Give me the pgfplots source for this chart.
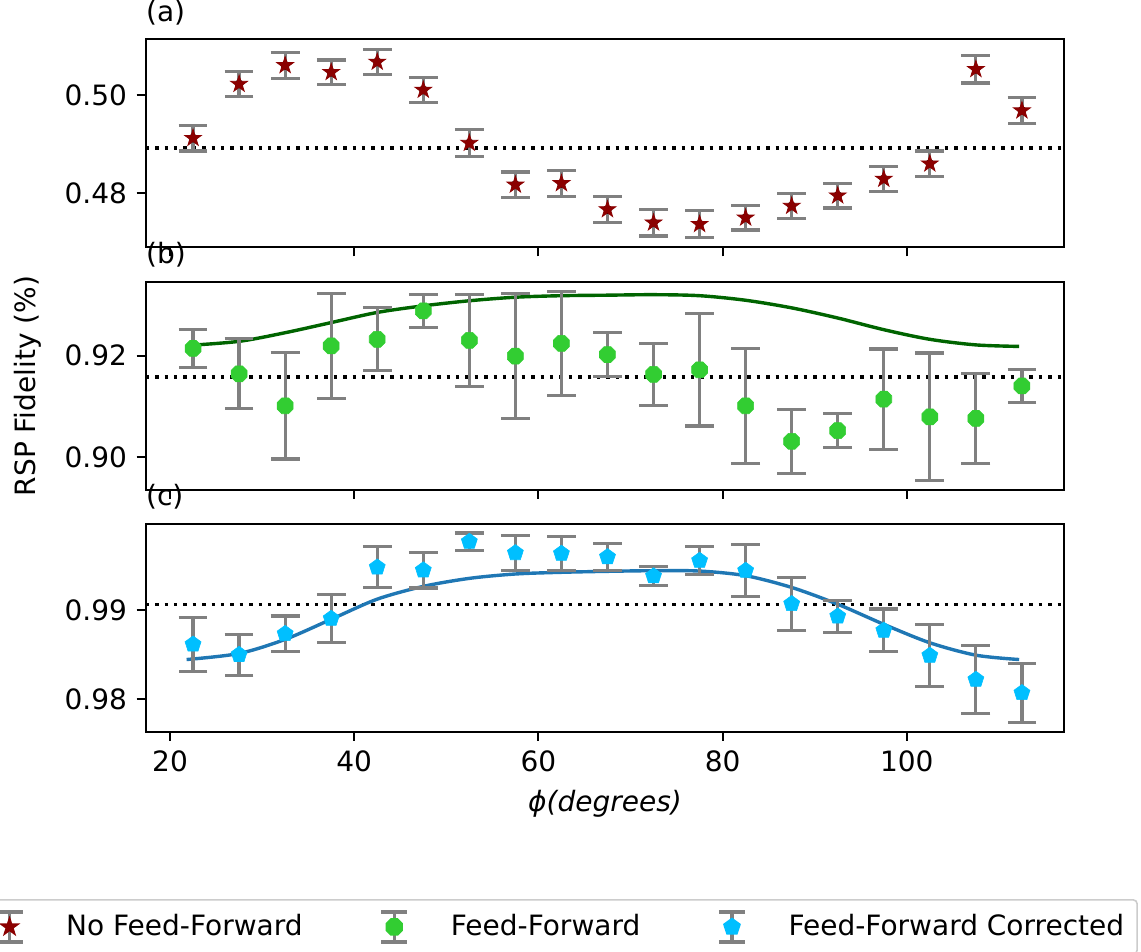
\documentclass[border=0pt]{standalone}
\usepackage{fontspec}
\setmainfont{DejaVu Sans}
\usepackage{pgfplots}
\usepackage{pgfplotstable}
\pgfplotsset{compat=1.18}

\definecolor{mkred}{RGB}{139,0,0}
\definecolor{mkgreen}{RGB}{50,205,50}
\definecolor{mkblue}{RGB}{0,191,255}
\definecolor{fitgreen}{RGB}{0,100,0}
\definecolor{fitblue}{RGB}{31,119,180}
\definecolor{ebgray}{RGB}{128,128,128}

\pgfdeclareplotmark{fstar}{%
  \pgfpathmoveto{\pgfpointpolar{90}{\pgfplotmarksize}}%
  \pgfpathlineto{\pgfpointpolar{126}{0.382\pgfplotmarksize}}%
  \pgfpathlineto{\pgfpointpolar{162}{\pgfplotmarksize}}%
  \pgfpathlineto{\pgfpointpolar{198}{0.382\pgfplotmarksize}}%
  \pgfpathlineto{\pgfpointpolar{234}{\pgfplotmarksize}}%
  \pgfpathlineto{\pgfpointpolar{270}{0.382\pgfplotmarksize}}%
  \pgfpathlineto{\pgfpointpolar{306}{\pgfplotmarksize}}%
  \pgfpathlineto{\pgfpointpolar{342}{0.382\pgfplotmarksize}}%
  \pgfpathlineto{\pgfpointpolar{18}{\pgfplotmarksize}}%
  \pgfpathlineto{\pgfpointpolar{54}{0.382\pgfplotmarksize}}%
  \pgfpathclose\pgfusepathqfillstroke}
\pgfdeclareplotmark{foct}{%
  \pgfpathmoveto{\pgfpointpolar{22.5}{\pgfplotmarksize}}%
  \pgfpathlineto{\pgfpointpolar{67.5}{\pgfplotmarksize}}%
  \pgfpathlineto{\pgfpointpolar{112.5}{\pgfplotmarksize}}%
  \pgfpathlineto{\pgfpointpolar{157.5}{\pgfplotmarksize}}%
  \pgfpathlineto{\pgfpointpolar{202.5}{\pgfplotmarksize}}%
  \pgfpathlineto{\pgfpointpolar{247.5}{\pgfplotmarksize}}%
  \pgfpathlineto{\pgfpointpolar{292.5}{\pgfplotmarksize}}%
  \pgfpathlineto{\pgfpointpolar{337.5}{\pgfplotmarksize}}%
  \pgfpathclose\pgfusepathqfillstroke}
\pgfdeclareplotmark{fpent}{%
  \pgfpathmoveto{\pgfpointpolar{90}{\pgfplotmarksize}}%
  \pgfpathlineto{\pgfpointpolar{162}{\pgfplotmarksize}}%
  \pgfpathlineto{\pgfpointpolar{234}{\pgfplotmarksize}}%
  \pgfpathlineto{\pgfpointpolar{306}{\pgfplotmarksize}}%
  \pgfpathlineto{\pgfpointpolar{18}{\pgfplotmarksize}}%
  \pgfpathclose\pgfusepathqfillstroke}

\pgfplotstableread{
x y e
22.5 0.4912 0.0026
27.5 0.5022 0.0025
32.5 0.5060 0.0026
37.5 0.5046 0.0025
42.5 0.5067 0.0026
47.5 0.5010 0.0026
52.5 0.4902 0.0027
57.5 0.4817 0.0026
62.5 0.4820 0.0026
67.5 0.4767 0.0027
72.5 0.4740 0.0027
77.5 0.4737 0.0027
82.5 0.4750 0.0025
87.5 0.4774 0.0026
92.5 0.4795 0.0025
97.5 0.4829 0.0025
102.5 0.4860 0.0026
107.5 0.5052 0.0028
112.5 0.4968 0.0026
}\dataA

\pgfplotstableread{
x y e
22.5 0.9214 0.0037
27.5 0.9164 0.0069
32.5 0.9101 0.0105
37.5 0.9219 0.0103
42.5 0.9232 0.0062
47.5 0.9288 0.0032
52.5 0.9230 0.0091
57.5 0.9199 0.0123
62.5 0.9224 0.0103
67.5 0.9202 0.0043
72.5 0.9163 0.0061
77.5 0.9172 0.0111
82.5 0.9101 0.0113
87.5 0.9031 0.0063
92.5 0.9052 0.0033
97.5 0.9114 0.0099
102.5 0.9079 0.0126
107.5 0.9076 0.0088
112.5 0.9140 0.0032
}\dataB

\pgfplotstableread{
x y e
22.5 0.98614 0.0030
27.5 0.98498 0.0023
32.5 0.98733 0.0020
37.5 0.98903 0.0027
42.5 0.99478 0.0023
47.5 0.99446 0.0020
52.5 0.99766 0.00096
57.5 0.99639 0.0020
62.5 0.99632 0.0019
67.5 0.99594 0.0015
72.5 0.99379 0.00104
77.5 0.99553 0.0016
82.5 0.99441 0.0029
87.5 0.99068 0.0030
92.5 0.98929 0.0018
97.5 0.98770 0.0024
102.5 0.98489 0.0035
107.5 0.98219 0.0038
112.5 0.98070 0.0033
}\dataC

\pgfplotstableread{
x y
22.0 0.9220
27.5 0.9228
32.5 0.9245
37.5 0.9265
42.5 0.9285
47.5 0.9298
52.5 0.9308
57.5 0.9315
62.5 0.9318
67.5 0.9319
72.5 0.9320
77.5 0.9318
82.5 0.9309
87.5 0.9294
92.5 0.9274
97.5 0.9251
102.5 0.9232
107.5 0.9221
112.2 0.9218
}\fitB

\pgfplotstableread{
x y
21.8 0.98444
27.5 0.98512
32.5 0.98670
37.5 0.98895
42.5 0.99121
47.5 0.99264
52.5 0.99354
57.5 0.99403
62.5 0.99422
67.5 0.99433
72.5 0.99440
77.5 0.99436
82.5 0.99384
87.5 0.99252
92.5 0.99064
97.5 0.98839
102.5 0.98632
107.5 0.98493
112.2 0.98444
}\fitC

\pgfplotsset{
  panel/.style={
    scale only axis, width=459.3pt, height=104pt,
    xmin=17.36, xmax=117.1,
    axis line style={line width=1pt},
    tick align=outside, tick pos=left,
    major tick length=4.5pt,
    tick style={black, line width=1pt},
    xtick={20,40,60,80,100},
    /pgf/number format/assume math mode=true,
    title style={at={(axis description cs:0,1)}, anchor=base west, inner sep=0pt, yshift=3pt},
  },
  ebar/.style={forget plot, only marks, mark=none,
    error bars/.cd, y dir=both, y explicit,
    error bar style={draw=ebgray, line width=1.6pt},
    error mark options={rotate=90, draw=ebgray, line width=1.6pt, mark size=7.2pt}},
  hline/.style={forget plot, black, line width=1.7pt, dash pattern=on 1.7pt off 3pt},
  ebleg/.style={legend image code/.code={%
    \draw[ebgray, line width=1.6pt] (0pt,-7.5pt) -- (0pt,7.5pt)
      (-6.5pt,-7.5pt) -- (6.5pt,-7.5pt) (-6.5pt,7.5pt) -- (6.5pt,7.5pt);
    \draw[##1] plot coordinates {(0pt,0pt)};}},
}

\begin{document}
\fontsize{14}{17}\selectfont
\begin{tikzpicture}
\useasboundingbox (0,0) rectangle (570.5pt,476pt);
\clip (0,0) rectangle (570.5pt,476pt);

% (a)
\begin{axis}[panel, at={(72.85pt,352.35pt)}, anchor=south west,
  ymin=0.4690, ymax=0.5113, ytick={0.48,0.50}, yticklabels={0.48,0.50},
  xticklabels={}, title={(a)}]
\addplot[hline] coordinates {(17.36,0.4892) (117.1,0.4892)};
\addplot[ebar] table[x=x,y=y,y error=e] {\dataA};
\addplot[forget plot, only marks, mark=fstar, mark size=4.4pt, color=mkred, mark options={line width=0.4pt}] table[x=x,y=y] {\dataA};
\end{axis}

% (b)
\begin{axis}[panel, at={(72.85pt,231pt)}, anchor=south west,
  ymin=0.8935, ymax=0.9345, ytick={0.90,0.92}, yticklabels={0.90,0.92},
  xticklabels={}, title={(b)},
  ylabel={RSP Fidelity (\%)},
  ylabel style={at={(axis description cs:-0.1287,0.5)}, anchor=center}]
\addplot[hline] coordinates {(17.36,0.9158) (117.1,0.9158)};
\addplot[forget plot, fitgreen, line width=1.7pt, smooth, no marks] table[x=x,y=y] {\fitB};
\addplot[ebar] table[x=x,y=y,y error=e] {\dataB};
\addplot[forget plot, only marks, mark=foct, mark size=4.3pt, color=mkgreen, mark options={line width=0.3pt}] table[x=x,y=y] {\dataB};
\end{axis}

% (c)
\begin{axis}[panel, at={(72.85pt,110.15pt)}, anchor=south west,
  ymin=0.97635, ymax=0.99967, ytick={0.98,0.99}, yticklabels={0.98,0.99},
  title={(c)},
  xlabel={\itshape ϕ(degrees)},
  xlabel style={at={(axis description cs:0.5,-0.345)}, anchor=center},
  legend columns=3,
  legend style={at={(axis description cs:1.0802,-0.8046)}, anchor=north east,
    draw=black!20, rounded corners=2pt, line width=0.8pt,
    inner xsep=6.5pt, inner ysep=5.25pt,
    nodes={inner sep=0pt},
    /tikz/column sep=0pt,
    /tikz/every odd column/.append style={column sep=21pt},
    /tikz/every even column/.append style={column sep=38.5pt}}]
\addplot[hline] coordinates {(17.36,0.99064) (117.1,0.99064)};
\addplot[forget plot, fitblue, line width=1.7pt, smooth, no marks] table[x=x,y=y] {\fitC};
\addplot[ebar] table[x=x,y=y,y error=e] {\dataC};
\addplot[forget plot, only marks, mark=fpent, mark size=4.2pt, color=mkblue, mark options={line width=0.3pt}] table[x=x,y=y] {\dataC};
\addlegendimage{ebleg, only marks, mark=fstar, mark size=4.4pt, color=mkred}
\addlegendentry{No Feed-Forward}
\addlegendimage{ebleg, only marks, mark=foct, mark size=4.3pt, color=mkgreen}
\addlegendentry{Feed-Forward}
\addlegendimage{ebleg, only marks, mark=fpent, mark size=4.2pt, color=mkblue}
\addlegendentry{Feed-Forward Corrected}
\end{axis}
\end{tikzpicture}
\end{document}
